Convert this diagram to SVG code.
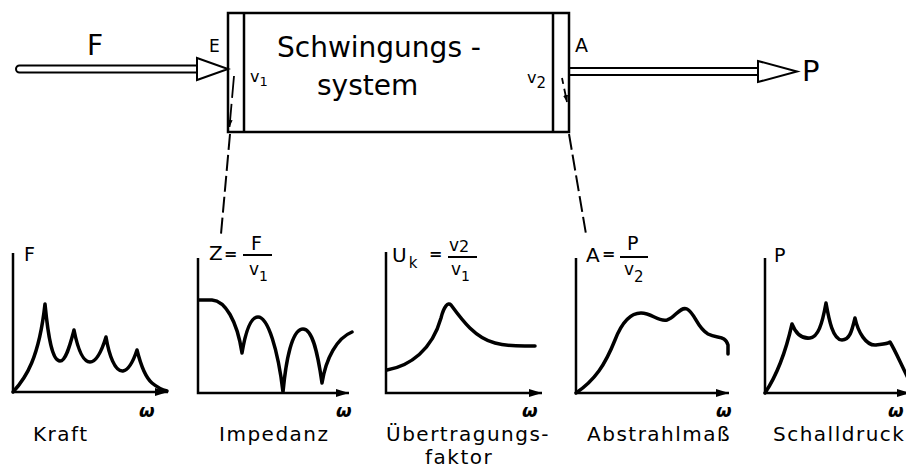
<svg xmlns="http://www.w3.org/2000/svg" width="906" height="471" viewBox="0 0 906 471">
<style>
.t{font-family:"DejaVu Sans",sans-serif;fill:#000}
.lbl{font-size:20px;letter-spacing:1.5px}
.w{font-size:18px;font-weight:bold;font-style:italic}
.curve{fill:none;stroke:#000;stroke-width:3.5;stroke-linejoin:round;stroke-linecap:round}
.axis{fill:none;stroke:#000;stroke-width:2.5}
.frac{stroke:#000;stroke-width:2}
.box{fill:#fff;stroke:#000;stroke-width:2.5}
.dash{fill:none;stroke:#000;stroke-width:2;stroke-dasharray:16 5}
.dbl{fill:#fff;stroke:#000;stroke-width:2;stroke-linejoin:miter}
</style>
<defs>
<marker id="ax" markerUnits="userSpaceOnUse" markerWidth="14" markerHeight="10" refX="13" refY="5" orient="auto">
<path d="M0,1 L13,5 L0,9 z" fill="#000"/>
</marker>
<marker id="sm" markerUnits="userSpaceOnUse" markerWidth="8" markerHeight="12" refX="7" refY="3" orient="auto">
<path d="M0,0.5 L7,3 L0,5.5 z" fill="#000"/>
</marker>
</defs>

<g id="system">
<rect class="box" x="228" y="13" width="341" height="119"/>
<line class="axis" x1="244" y1="13" x2="244" y2="132"/>
<line class="axis" x1="553" y1="13" x2="553" y2="132"/>
<text class="t" x="277" y="57" font-size="28">Schwingungs -</text>
<text class="t" x="317" y="95" font-size="28">system</text>
<text class="t" x="250" y="82" font-size="16">v<tspan font-size="13" dy="4">1</tspan></text>
<text class="t" x="527" y="83" font-size="16">v<tspan font-size="15" dy="5">2</tspan></text>
<text class="t" x="209" y="52" font-size="17">E</text>
<text class="t" x="575" y="52" font-size="19">A</text>
</g>

<g id="input">
<path class="dbl" d="M197,65.5 L19.5,65.5 A3.5,3.5 0 0 0 19.5,72.5 L197,72.5"/>
<polygon class="dbl" points="197,58 228,69 197,80"/>
<text class="t" x="87" y="55" font-size="28">F</text>
</g>

<g id="output">
<path class="dbl" d="M569,68 L758,68 M569,75 L758,75"/>
<polygon class="dbl" points="758,61 797,71.5 758,82"/>
<text class="t" x="802" y="81" font-size="29">P</text>
</g>

<g id="connectors">
<line class="dash" x1="230" y1="134" x2="221" y2="234"/>
<line class="dash" x1="569" y1="134" x2="586" y2="234"/>
<line x1="234" y1="76" x2="229.5" y2="127" stroke="#000" stroke-width="1.8" stroke-dasharray="22 6 30" marker-end="url(#sm)"/>
<line x1="562" y1="78" x2="567" y2="102" stroke="#000" stroke-width="1.8" stroke-dasharray="6 5 30" marker-end="url(#sm)"/>
</g>

<g id="kraft">
<path class="axis" d="M13,253 L13,392 L168,392" marker-end="url(#ax)"/>
<path class="curve" d="M13,392 C26,378 39,358 45,304 C48,335 52,361 60,361 C66,361 70,345 74,330 C77,345 82,362 90,362 C97,362 102,350 106,337 C109,355 115,372 123,371 C129,370 133,362 137,350 C140,362 145,377 152,383 C158,388 163,390 167,391"/>
<text class="t" x="24" y="261" font-size="19">F</text>
<text class="t w" x="139" y="417">ω</text>
<text class="t lbl" x="33" y="441">Kraft</text>
</g>

<g id="impedanz">
<path class="axis" d="M198,258 L198,393 L349,393" marker-end="url(#ax)"/>
<path class="curve" d="M199,300 L212,300 C225,301 237,320 242,353 C245,335 250,317 258,317 C268,317 278,350 283,392 C286,360 292,329 303,329 C313,329 318,355 322,383 C326,358 337,338 352,332"/>
<text class="t" x="209" y="260" font-size="20">Z</text>
<text class="t" x="224" y="259" font-size="16" font-weight="bold">=</text>
<text class="t" x="251" y="250" font-size="19">F</text>
<line class="frac" x1="243" y1="255" x2="272" y2="255"/>
<text class="t" x="249" y="275" font-size="17">v<tspan font-size="14" dy="6">1</tspan></text>
<text class="t w" x="336" y="417">ω</text>
<text class="t lbl" x="219" y="441">Impedanz</text>
</g>

<g id="uebertragung">
<path class="axis" d="M386,252 L386,393 L542,393" marker-end="url(#ax)"/>
<path class="curve" d="M387,370 C410,366 432,350 441,318 C444,306 448,302 451,305 C462,320 475,338 495,343 C510,347 520,346 535,346"/>
<text class="t" x="392" y="262" font-size="20">U<tspan font-size="15" dx="2" dy="6">k</tspan></text>
<text class="t" x="429" y="259" font-size="16" font-weight="bold">=</text>
<text class="t" x="449" y="251" font-size="17">v<tspan font-size="16" dy="1">2</tspan></text>
<line class="frac" x1="448" y1="257" x2="477" y2="257"/>
<text class="t" x="451" y="275" font-size="17">v<tspan font-size="14" dy="6">1</tspan></text>
<text class="t w" x="522" y="417">ω</text>
<text class="t lbl" x="386" y="441">Übertragungs-</text>
<text class="t lbl" x="425" y="464">faktor</text>
</g>

<g id="abstrahl">
<path class="axis" d="M576,258 L576,393 L729,393" marker-end="url(#ax)"/>
<path class="curve" d="M576,393 C595,380 605,365 615,340 C622,322 630,313 641,313 C652,313 658,322 667,320 C675,318 680,306 687,309 C695,313 697,328 708,334 C718,339 725,335 728,345 L728,354"/>
<text class="t" x="586" y="262" font-size="20">A</text>
<text class="t" x="602" y="259" font-size="16" font-weight="bold">=</text>
<text class="t" x="627" y="250" font-size="19">P</text>
<line class="frac" x1="620" y1="257" x2="648" y2="257"/>
<text class="t" x="624" y="275" font-size="17">v<tspan font-size="15" dy="7">2</tspan></text>
<text class="t w" x="716" y="417">ω</text>
<text class="t lbl" x="587" y="441">Abstrahlmaß</text>
</g>

<g id="schalldruck">
<path class="axis" d="M765,258 L765,393 L910,393" marker-end="url(#ax)"/>
<path class="curve" d="M765,393 C775,378 785,355 792,324 C796,334 802,339 810,338 C818,337 822,325 826,303 C829,320 833,340 842,340 C850,340 852,330 855,318 C858,332 866,346 876,345 C884,344 887,344 890,342 C895,350 900,362 908,378"/>
<text class="t" x="774" y="262" font-size="19">P</text>
<text class="t w" x="888" y="417">ω</text>
<text class="t lbl" x="773" y="441">Schalldruck</text>
</g>
</svg>
